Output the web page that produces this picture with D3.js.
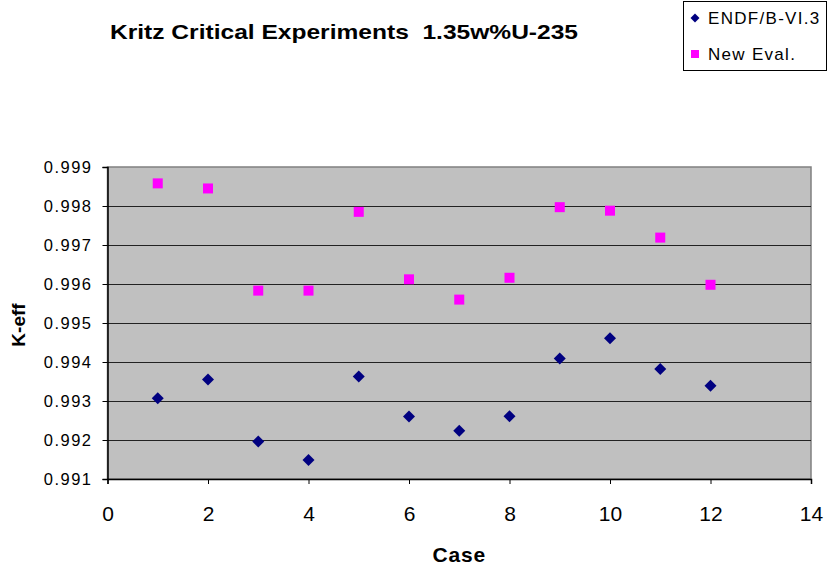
<!DOCTYPE html>
<html>
<head>
<meta charset="utf-8">
<script src="https://cdn.jsdelivr.net/npm/d3@7"></script>
<style>
	body { margin: 0; background: #fff; }
	text { font-family: "Liberation Sans", Arial, sans-serif; fill: #000; white-space: pre; }
</style>
</head>
<body>
<svg id="chart" width="828" height="571"></svg>
<script>
// Kritz critical experiments, k-eff per case
const cases = [1, 2, 3, 4, 5, 6, 7, 8, 9, 10, 11, 12];
const endfValues = [0.99307, 0.99355, 0.99196, 0.99149, 0.99363, 0.99260,
	0.99224, 0.99261, 0.99409, 0.99461, 0.99382, 0.99339];
const newEvalValues = [0.99858, 0.99845, 0.99583, 0.99583, 0.99785, 0.99612,
	0.99560, 0.99616, 0.99797, 0.99788, 0.99719, 0.99598];
const xTicks = [0, 2, 4, 6, 8, 10, 12, 14];
const yTicks = [0.991, 0.992, 0.993, 0.994, 0.995, 0.996, 0.997, 0.998, 0.999];

const series = [
	{ name: "ENDF/B-VI.3", values: endfValues, color: "#000080", shape: "diamond" },
	{ name: "New Eval.", values: newEvalValues, color: "#FF00FF", shape: "square" },
];

const svg = d3.select("#chart");
const plot = { left: 107.5, right: 811, top: 167, bottom: 479 };

const x = d3.scaleLinear().domain([0, 14]).range([plot.left, plot.right]);
const y = d3.scaleLinear().domain([0.991, 0.999]).range([plot.bottom, plot.top]);

// plot background
svg.append("rect")
	.attr("x", plot.left).attr("y", plot.top)
	.attr("width", plot.right - plot.left).attr("height", plot.bottom - plot.top)
	.attr("fill", "#C0C0C0")
	.attr("stroke", "#808080").attr("stroke-width", 1.5);

// horizontal gridlines
svg.append("g")
	.selectAll("line")
	.data(yTicks.slice(1, -1))
	.join("line")
	.attr("x1", plot.left).attr("x2", plot.right)
	.attr("y1", (d) => Math.round(y(d)) + 0.5).attr("y2", (d) => Math.round(y(d)) + 0.5)
	.attr("stroke", "#222").attr("stroke-width", 1);

// axes
const yAxis = svg.append("g")
	.attr("transform", `translate(${plot.left},0)`)
	.call(d3.axisLeft(y).tickValues(yTicks).tickFormat(d3.format(".3f")).tickSize(5).tickPadding(10));
const xAxis = svg.append("g")
	.attr("transform", `translate(0,${plot.bottom})`)
	.call(d3.axisBottom(x).tickValues(xTicks).tickFormat(d3.format("d")).tickSize(5).tickPadding(22));

[yAxis, xAxis].forEach((g) => {
	g.select(".domain").attr("stroke", "#000").attr("stroke-width", 1.5);
	g.selectAll(".tick line").attr("stroke", "#000");
	g.selectAll("text")
		.style("font-family", '"Liberation Sans", Arial, sans-serif')
		.attr("fill", "#000");
});
yAxis.selectAll("text").style("font-size", "16.5px").style("letter-spacing", "1.5px");
xAxis.selectAll("text").style("font-size", "21px");

// markers
const diamond = d3.symbol().type(d3.symbolSquare).size(72)();
const square = d3.symbol().type(d3.symbolSquare).size(100)();

series.forEach((s) => {
	svg.append("g")
		.selectAll("path")
		.data(cases.map((c, i) => [c, s.values[i]]))
		.join("path")
		.attr("d", s.shape === "diamond" ? diamond : square)
		.attr("transform", (d) => `translate(${x(d[0])},${y(d[1])})` + (s.shape === "diamond" ? " rotate(45)" : ""))
		.attr("fill", s.color);
});

// title and axis titles
svg.append("text")
	.attr("x", 344).attr("y", 39)
	.attr("text-anchor", "middle")
	.attr("textLength", 468).attr("lengthAdjust", "spacingAndGlyphs")
	.style("font-size", "21px").style("font-weight", "bold")
	.text("Kritz Critical Experiments  1.35w%U-235");

svg.append("text")
	.attr("x", (plot.left + plot.right) / 2).attr("y", 562)
	.attr("text-anchor", "middle")
	.style("font-size", "21px").style("font-weight", "bold").style("letter-spacing", "0.8px")
	.text("Case");

svg.append("text")
	.attr("transform", "translate(25,325) rotate(-90)")
	.attr("text-anchor", "middle")
	.style("font-size", "19px").style("font-weight", "bold")
	.text("K-eff");

// legend
const legend = svg.append("g");
legend.append("rect")
	.attr("x", 683.5).attr("y", 1.5).attr("width", 143).attr("height", 69)
	.attr("fill", "#fff").attr("stroke", "#000").attr("stroke-width", 1);

series.forEach((s, i) => {
	const ly = 18 + i * 36;
	legend.append("path")
		.attr("d", s.shape === "diamond" ? d3.symbol().type(d3.symbolSquare).size(40)() : d3.symbol().type(d3.symbolSquare).size(64)())
		.attr("transform", `translate(695,${ly})` + (s.shape === "diamond" ? " rotate(45)" : ""))
		.attr("fill", s.color);
	legend.append("text")
		.attr("x", 708).attr("y", ly + 6)
		.style("font-size", "17px").style("letter-spacing", "1.3px")
		.text(s.name);
});
</script>
</body>
</html>
